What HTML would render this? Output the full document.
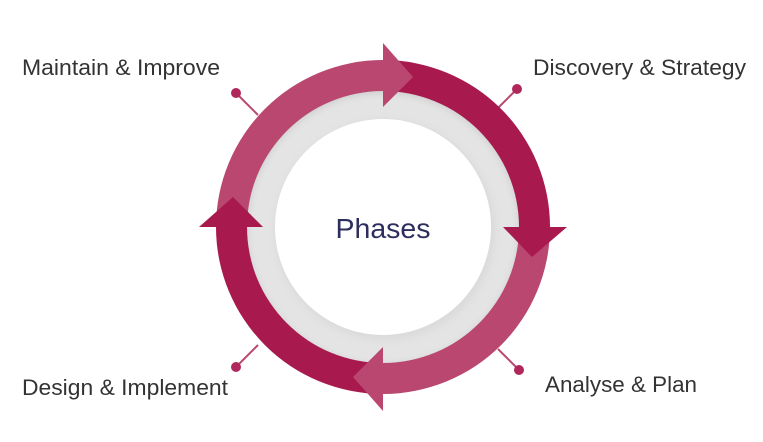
<!DOCTYPE html>
<html><head><meta charset="utf-8"><style>
html,body{margin:0;padding:0;background:#fff;width:763px;height:442px;overflow:hidden}
</style></head><body>
<svg width="763" height="442" viewBox="0 0 763 442" xmlns="http://www.w3.org/2000/svg">
<defs>
<filter id="sh" x="-20%" y="-20%" width="140%" height="140%"><feGaussianBlur stdDeviation="4"/></filter>
</defs>
<g stroke="#b9476f" stroke-width="2">
<line x1="236" y1="93" x2="258" y2="115"/>
<line x1="517" y1="89" x2="496" y2="110"/>
<line x1="236" y1="367" x2="258" y2="345"/>
<line x1="519" y1="370" x2="498" y2="349"/>
</g>
<g fill="#b0285b">
<circle cx="236" cy="93" r="5"/>
<circle cx="517" cy="89" r="5"/>
<circle cx="236" cy="367" r="5"/>
<circle cx="519" cy="370" r="5"/>
</g>
<circle cx="383" cy="227" r="137" fill="#e4e4e4"/>
<circle cx="385" cy="230" r="110" fill="#d0d0d0" filter="url(#sh)" opacity="0.5"/>
<circle cx="383" cy="227" r="108" fill="#fff"/>
<circle cx="383" cy="229" r="140" fill="none" stroke="#999" stroke-width="5" filter="url(#sh)" opacity="0.5"/>
<path d="M216 227 A167 167 0 0 1 383 60 L383 91 A136 136 0 0 0 247 227 Z" fill="#b9476f"/>
<path d="M383 60 A167 167 0 0 1 550 227 L519 227 A136 136 0 0 0 383 91 Z" fill="#a81a4e"/>
<path d="M550 227 A167 167 0 0 1 383 394 L383 363 A136 136 0 0 0 519 227 Z" fill="#b9476f"/>
<path d="M383 394 A167 167 0 0 1 216 227 L247 227 A136 136 0 0 0 383 363 Z" fill="#a81a4e"/>
<polygon points="383,43 383,107 413,77" fill="#b9476f"/>
<polygon points="567,227 503,227 532,257" fill="#a81a4e"/>
<polygon points="383,411 383,347 353,377" fill="#b9476f"/>
<polygon points="199,227 263,227 233,197" fill="#a81a4e"/>
<g font-family="Liberation Sans, sans-serif" font-size="22" fill="#333">
<text x="22" y="75" textLength="198" lengthAdjust="spacingAndGlyphs">Maintain &amp; Improve</text>
<text x="533" y="75" textLength="213" lengthAdjust="spacingAndGlyphs">Discovery &amp; Strategy</text>
<text x="22" y="395" textLength="206" lengthAdjust="spacingAndGlyphs">Design &amp; Implement</text>
<text x="545" y="392" textLength="152" lengthAdjust="spacingAndGlyphs">Analyse &amp; Plan</text>
</g>
<text x="383" y="238" text-anchor="middle" font-family="Liberation Sans, sans-serif" font-size="28" fill="#2e2e5e" textLength="95" lengthAdjust="spacingAndGlyphs">Phases</text>
</svg>
</body></html>
